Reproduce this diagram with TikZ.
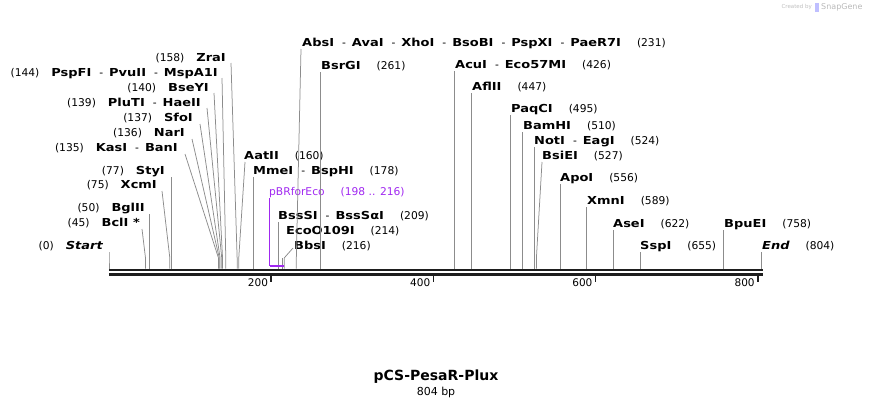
\documentclass[tikz,border=0pt]{standalone}
\usepackage{fontspec}
\setmainfont{DejaVu Sans}
\newfontface\enzfont{DejaVu Sans Bold}[FakeStretch=1.18]
\newfontface\enzitfont{DejaVu Sans Bold Oblique}[FakeStretch=1.18]
\newcommand\nm[1]{{\fontsize{11}{13}\enzfont #1}}
\newcommand\nmit[1]{{\fontsize{11}{13}\enzitfont #1}}
\newcommand\dsh{\hspace{8pt}-\hspace{6pt}}
\newcommand\gapL{\hspace{12pt}}
\newcommand\gapR{\hspace{16pt}}
\newcommand\posx[1]{109+0.811*#1}
\definecolor{feat}{RGB}{160,40,240}
\definecolor{conncol}{RGB}{140,140,140}
\definecolor{barcol}{RGB}{30,30,30}
\begin{document}
\begin{tikzpicture}[x=1pt,y=-1pt,
  lab/.style={inner sep=0pt, font=\fontsize{10.7}{12}\selectfont},
  labL/.style={lab, anchor=base east},
  labR/.style={lab, anchor=base west},
  conn/.style={draw=conncol, line width=0.75pt},
  tickmark/.style={draw=barcol, line width=1.6pt},
  ticklab/.style={inner sep=0pt, anchor=east, font=\fontsize{10.5}{12}\selectfont}]
\useasboundingbox (0,0) rectangle (872,408);

% backbone
\draw[draw=barcol, line width=2.4pt] (109,270) -- (763,270);
\draw[draw=barcol, line width=2.6pt] (109,274.6) -- (763,274.6);

% ticks
\foreach \t/\n in {200/t2,400/t4,600/t6,800/t8}{
  \coordinate (\n) at ({\posx{\t}},276);
  \draw[tickmark] (\n) -- ++(0,6);
  \node[ticklab] at ([xshift=-3pt,yshift=-7pt]\n) {\t};
}

% left labels
\node[labL] (start) at (103,249) {(0)\gapL\nmit{Start}};
\node[labL] (bcl) at (140,226) {(45)\gapL\nm{BclI *}};
\node[labL] (bgl) at (145,211) {(50)\gapL\nm{BglII}};
\node[labL] (xcm) at (157,188) {(75)\gapL\nm{XcmI}};
\node[labL] (sty) at (165,174) {(77)\gapL\nm{StyI}};
\node[labL] (kas) at (178,151) {(135)\gapL\nm{KasI}\dsh\nm{BanI}};
\node[labL] (nar) at (185,136) {(136)\gapL\nm{NarI}};
\node[labL] (sfo) at (193,121) {(137)\gapL\nm{SfoI}};
\node[labL] (plu) at (201,106) {(139)\gapL\nm{PluTI}\dsh\nm{HaeII}};
\node[labL] (bse) at (209,91) {(140)\gapL\nm{BseYI}};
\node[labL] (psp) at (218,76) {(144)\gapL\nm{PspFI}\dsh\nm{PvuII}\dsh\nm{MspA1I}};
\node[labL] (zra) at (226,61) {(158)\gapL\nm{ZraI}};

% right labels
\node[labR] (aat) at (244,159) {\nm{AatII}\gapR(160)};
\node[labR] (mme) at (253,174) {\nm{MmeI}\dsh\nm{BspHI}\gapR(178)};
\node[labR, text=feat] (pbr) at (269,195) {pBRforEco\gapR(198 .. 216)};
\node[labR] (bss) at (278,219) {\nm{BssSI}\dsh\nm{BssSαI}\gapR(209)};
\node[labR] (eco) at (286,234) {\nm{EcoO109I}\gapR(214)};
\node[labR] (bbs) at (294,249) {\nm{BbsI}\gapR(216)};
\node[labR] (abs) at (302,46) {\nm{AbsI}\dsh\nm{AvaI}\dsh\nm{XhoI}\dsh\nm{BsoBI}\dsh\nm{PspXI}\dsh\nm{PaeR7I}\gapR(231)};
\node[labR] (bsr) at (321,69) {\nm{BsrGI}\gapR(261)};
\node[labR] (acu) at (455,68) {\nm{AcuI}\dsh\nm{Eco57MI}\gapR(426)};
\node[labR] (afl) at (472,90) {\nm{AflII}\gapR(447)};
\node[labR] (paq) at (511,112) {\nm{PaqCI}\gapR(495)};
\node[labR] (bam) at (523,129) {\nm{BamHI}\gapR(510)};
\node[labR] (not) at (534,144) {\nm{NotI}\dsh\nm{EagI}\gapR(524)};
\node[labR] (bsi) at (542,159) {\nm{BsiEI}\gapR(527)};
\node[labR] (apo) at (560,181) {\nm{ApoI}\gapR(556)};
\node[labR] (xmn) at (587,204) {\nm{XmnI}\gapR(589)};
\node[labR] (ase) at (613,227) {\nm{AseI}\gapR(622)};
\node[labR] (ssp) at (640,249) {\nm{SspI}\gapR(655)};
\node[labR] (bpu) at (724,227) {\nm{BpuEI}\gapR(758)};
\node[labR] (endl) at (762,249) {\nmit{End}\gapR(804)};

% connector top points
\coordinate (startT) at (109,252);
\coordinate (bclT) at (142,229);
\coordinate (bglT) at ({\posx{50}},214);
\coordinate (xcmT) at (162,191);
\coordinate (styT) at ({\posx{77}},177);
\coordinate (kasT) at (185,154);
\coordinate (narT) at (192,139);
\coordinate (sfoT) at (200,124);
\coordinate (pluT) at (207,108);
\coordinate (bseT) at (214,93);
\coordinate (pspT) at (222,78);
\coordinate (zraT) at (231,63);
\coordinate (aatT) at (245,162);
\coordinate (mmeT) at ({\posx{178}},177);
\coordinate (bssT) at ({\posx{209}},222);
\coordinate (bbsT) at (293,248);
\coordinate (absT) at (301,49);
\coordinate (bsrT) at ({\posx{261}},72);
\coordinate (acuT) at ({\posx{426}},71);
\coordinate (aflT) at ({\posx{447}},93);
\coordinate (paqT) at ({\posx{495}},115);
\coordinate (bamT) at ({\posx{510}},132);
\coordinate (notT) at ({\posx{524}},147);
\coordinate (bsiT) at (542,162);
\coordinate (apoT) at ({\posx{556}},184);
\coordinate (xmnT) at ({\posx{589}},207);
\coordinate (aseT) at ({\posx{622}},230);
\coordinate (sspT) at ({\posx{655}},252);
\coordinate (bpuT) at ({\posx{758}},230);
\coordinate (endT) at ({\posx{804}},252);

% connectors: top -> (pos,258) -> (pos,268)
\foreach \n/\p in {start/0,bcl/45,bgl/50,xcm/75,sty/77,kas/135,nar/136,sfo/137,plu/139,bse/140,psp/144,zra/158,aat/160,mme/178,bss/209,bbs/216,abs/231,bsr/261,acu/426,afl/447,paq/495,bam/510,not/524,bsi/527,apo/556,xmn/589,ase/622,ssp/655,bpu/758,end/804}{
  \coordinate (\n M) at ({\posx{\p}},258);
  \coordinate (\n B) at ({\posx{\p}},268.5);
  \draw[conn] (\n T) -- (\n M) -- (\n B);
}
\coordinate (ecoB) at ({\posx{214}},268.5);
\coordinate (ecoM) at ({\posx{214}},258);
\draw[conn] (ecoM) -- (ecoB);

% feature pBRforEco
\coordinate (pbrT) at ({\posx{198}},198);
\coordinate (pbrA) at ({\posx{198}},266);
\coordinate (pbrZ) at ({\posx{216}},266);
\draw[draw=feat, line width=0.9pt] (pbrT) -- (pbrA);
\draw[draw=feat, line width=2.2pt] (pbrA) -- (pbrZ);

% title
\node[inner sep=0pt, font=\fontsize{14}{16}\selectfont\bfseries] (title) at (436,377) {pCS-PesaR-Plux};
\node[inner sep=0pt, font=\fontsize{11}{12}\selectfont] (size) at (436,392) {804 bp};

% watermark
\node[inner sep=0pt, anchor=east, text=gray!50, font=\fontsize{5.5}{6}\selectfont] (cb) at (812,7) {Created by};
\fill[blue!25] (815,2.5) rectangle (818.5,11.5);
\node[inner sep=0pt, anchor=west, text=gray!55, font=\fontsize{8}{9}\selectfont] (sg) at (821,7) {SnapGene};
\end{tikzpicture}
\end{document}
